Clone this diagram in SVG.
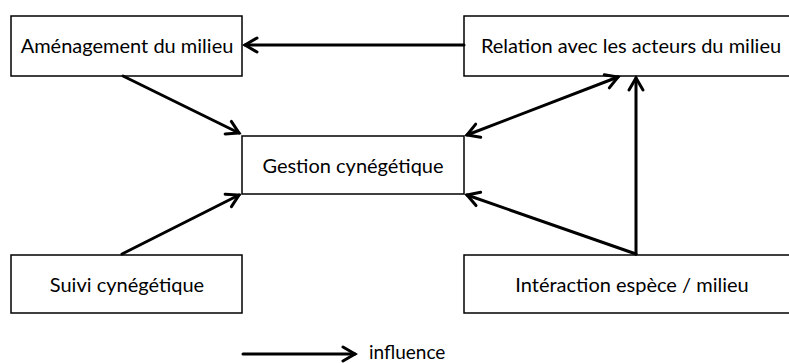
<svg xmlns="http://www.w3.org/2000/svg" width="789" height="363" viewBox="0 0 789 363">
<defs>
<style>
.box{fill:#fff;stroke:#000;stroke-width:1.5}
.lbl{font-family:Lato,"Liberation Sans",sans-serif;font-size:20px;fill:#000;text-anchor:middle}
.arr{stroke:#000;stroke-width:3;fill:none;stroke-linecap:round}
</style>
<marker id="ah" markerUnits="userSpaceOnUse" markerWidth="20" markerHeight="20" viewBox="-14 -10 16 20" refX="0" refY="0" orient="auto-start-reverse">
<path d="M-12,-7 L0,0 L-12,7" fill="none" stroke="#000" stroke-width="3" stroke-linecap="round" stroke-linejoin="miter"/>
</marker>
</defs>
<rect width="789" height="363" fill="#fff"/>
<g id="amenagement"><rect class="box" x="11" y="16" width="231" height="60"/><text class="lbl" x="127" y="53">Aménagement du milieu</text></g>
<g id="relation"><rect class="box" x="464" y="16" width="340" height="60"/><text class="lbl" x="631" y="53">Relation avec les acteurs du milieu</text></g>
<g id="gestion"><rect class="box" x="242" y="136" width="222" height="58"/><text class="lbl" x="353" y="173">Gestion cynégétique</text></g>
<g id="suivi"><rect class="box" x="11" y="255" width="231" height="58"/><text class="lbl" x="127" y="292">Suivi cynégétique</text></g>
<g id="interaction"><rect class="box" x="464" y="255" width="340" height="58"/><text class="lbl" x="632" y="292">Intéraction espèce / milieu</text></g>
<g id="connectors">
<line class="arr" x1="464" y1="45" x2="245" y2="45" marker-end="url(#ah)"/>
<line class="arr" x1="123" y1="76" x2="239" y2="133" marker-end="url(#ah)"/>
<line class="arr" x1="122" y1="254" x2="239" y2="195" marker-end="url(#ah)"/>
<line class="arr" x1="467" y1="135" x2="618" y2="77" marker-start="url(#ah)" marker-end="url(#ah)"/>
<line class="arr" x1="636" y1="254" x2="636" y2="78" marker-end="url(#ah)"/>
<line class="arr" x1="636" y1="254" x2="467" y2="195" marker-end="url(#ah)"/>
</g>
<g id="legend">
<line class="arr" x1="243" y1="354" x2="355" y2="354" marker-end="url(#ah)"/>
<text x="369" y="359" style="font-family:Lato,'Liberation Sans',sans-serif;font-size:19px">influence</text>
</g>
</svg>
